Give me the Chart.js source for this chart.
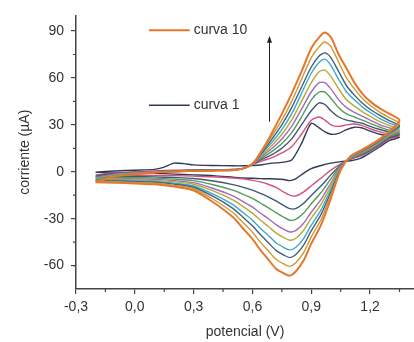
<!DOCTYPE html>
<html>
<head>
<meta charset="utf-8">
<script src="https://cdn.jsdelivr.net/npm/chart.js@4"></script>
<style>
  html, body { margin: 0; padding: 0; background: #fff; }
  #wrap { width: 414px; height: 342px; }
</style>
</head>
<body>
<div id="wrap"><canvas id="cvChart"></canvas></div>
<script>
// Potential sweep: -0.2 V up to 1.35 V and back down again
const potential = [
  -0.2, -0.1, 0.0, 0.1, 0.15, 0.2, 0.25, 0.3, 0.4, 0.5, 0.55,
  0.6, 0.65, 0.7, 0.75, 0.8, 0.85, 0.9, 0.94, 0.97, 1.0, 1.04, 1.08, 1.12, 1.16, 1.2, 1.25, 1.3, 1.35,
  1.3, 1.25, 1.2, 1.15, 1.1, 1.05, 1.0, 0.95, 0.9, 0.86, 0.82, 0.79, 0.76, 0.72, 0.68, 0.64, 0.6, 0.55, 0.5, 0.4, 0.3, 0.2, 0.1, 0.0, -0.1, -0.2
];

// Current (uA) for each cycle, same order as potential
const curva1 = [
  -0.3, 0.5, 1, 1.5, 3, 5.5, 5.2, 4.4, 4, 3.8, 3.8,
  4, 4.5, 5.5, 6, 7.5, 18, 31, 28, 25.5, 24, 24.5, 27, 28.5, 28, 26, 24, 23, 22,
  20, 16, 12, 8.5, 7, 6.5, 5.5, 4, 2, -1, -4.5, -5.7, -5, -4.6, -4.5, -4.4, -4.2, -4, -3.5, -2.5, -2, -1.5, -1, -0.8, -0.5, -0.3
];
const curva2 = [
  -2, -0.5, 0, 0.5, 0.8, 1, 1, 1.2, 1.3, 1.5, 2,
  4.5, 7, 9, 12, 16, 24, 33, 35, 33, 30, 29, 30, 30.5, 29.5, 27.5, 25.5, 24, 23,
  21, 17, 13, 10, 8, 5, 1, -4, -9, -13, -15.5, -15, -13, -10, -8, -6.5, -5.5, -4.5, -4, -3.2, -2.8, -2.5, -2.3, -2.2, -2.1, -2
];
const curva3 = [
  -2.8, -1, -0.5, 0, 0.3, 0.5, 0.8, 1, 1.2, 1.4, 2,
  5, 8, 11, 15, 21, 30, 39, 44, 43, 39, 35, 33, 32, 31, 29, 27, 25.5, 24,
  21.8, 17.7, 13.7, 10.6, 8.3, 4.3, -2, -9, -15.2, -20.3, -23.6, -23.6, -21.7, -18.7, -16, -13.8, -11.8, -9.8, -8.2, -5.9, -4.3, -3.7, -3.3, -3.1, -2.9, -2.8
];
const curva4 = [
  -3.5, -1.5, -0.5, 0, 0.2, 0.5, 0.7, 0.8, 1, 1.3, 2,
  5, 9, 13, 18, 25, 35, 46, 51, 51, 47, 41, 37, 35, 33, 31, 28.5, 26.5, 25,
  22.6, 18.2, 14.2, 11.1, 8.6, 3.8, -4.6, -13.3, -20.5, -26.6, -30.5, -31, -29.1, -26.1, -22.9, -20, -17.1, -14.3, -11.8, -8.3, -5.7, -4.7, -4.1, -3.8, -3.6, -3.5
];
const curva5 = [
  -4.2, -1.5, -1, 0, 0, 0.3, 0.5, 0.7, 1, 1.2, 2,
  5, 10, 15, 21, 29, 40, 51, 57, 57, 53, 46, 41, 38, 35.5, 33, 30, 28, 26,
  23.3, 18.8, 14.8, 11.6, 8.9, 3.2, -7.2, -17.7, -25.9, -33.1, -37.7, -38.5, -36.8, -33.8, -29.9, -26.4, -22.6, -18.9, -15.4, -10.7, -7, -5.7, -4.9, -4.6, -4.3, -4.2
];
const curva6 = [
  -4.7, -2, -1, -0.5, 0, 0.2, 0.5, 0.6, 0.9, 1.2, 2,
  5, 11, 17, 24, 33, 45, 57, 64, 65, 61, 53, 46, 42, 38.5, 35.5, 32, 29.5, 27,
  23.8, 19.2, 15.2, 12, 9.1, 2.8, -9.1, -20.8, -29.7, -37.6, -42.7, -43.8, -42.1, -39.1, -34.9, -30.9, -26.5, -22.1, -18, -12.3, -8, -6.4, -5.5, -5.2, -4.8, -4.7
];
const curva7 = [
  -5.3, -2, -1, -0.5, 0, 0.2, 0.5, 0.6, 0.8, 1.1, 2,
  5, 12, 19, 27, 37, 50, 63, 70, 72, 68, 59, 51, 46, 41.5, 38, 34, 31, 28.5,
  24.4, 19.7, 15.7, 12.4, 9.4, 2.3, -11.2, -24.4, -34.2, -42.9, -48.5, -50, -48.4, -45.4, -40.6, -36.1, -31, -25.9, -21, -14.3, -9.1, -7.3, -6.2, -5.8, -5.4, -5.3
];
const curva8 = [
  -5.7, -2.5, -1.5, -0.5, 0, 0.2, 0.4, 0.5, 0.8, 1.1, 2,
  5, 12.5, 21, 30, 41, 54, 67, 74, 76, 73, 64, 55, 49, 44, 40, 36, 32.5, 29.5,
  24.9, 20.1, 16.1, 12.7, 9.6, 1.9, -13, -27.3, -37.7, -47.1, -53.1, -54.9, -53.3, -50.3, -45.2, -40.2, -34.6, -28.9, -23.4, -15.8, -9.9, -7.9, -6.7, -6.3, -5.9, -5.7
];
const curva9 = [
  -6.2, -2.5, -1.5, -0.5, 0, 0, 0.3, 0.5, 0.7, 1, 2,
  5, 13.5, 23, 33, 45, 59, 73, 80, 83, 80, 70, 60, 53, 47, 42.5, 38, 34.5, 31,
  25.4, 20.5, 16.5, 13.1, 9.8, 1.5, -14.9, -30.5, -41.7, -51.9, -58.4, -60.5, -59, -56, -50.4, -45, -38.7, -32.3, -26.1, -17.6, -10.9, -8.7, -7.3, -6.9, -6.4, -6.2
];
const curva10 = [
  -6.8, -3, -1.5, -0.5, 0, 0, 0.3, 0.5, 0.7, 1, 2,
  5, 14, 25, 37, 50, 64, 79, 86, 89, 86, 75, 66, 57, 50, 45, 40.5, 37, 33,
  26, 21, 17, 13.5, 10, 1, -17, -34, -46, -57, -64, -66.5, -65, -62, -56, -50, -43, -36, -29, -19.5, -12, -9.5, -8, -7.5, -7, -6.8
];

const curves = [curva1, curva2, curva3, curva4, curva5, curva6, curva7, curva8, curva9, curva10];
const curveColors = ['#2e3a57', '#d4507c', '#3f5876', '#4f9d5b', '#a36ab9',
                     '#b8a933', '#3fa9c9', '#3e6088', '#cc9a2e', '#e5772c'];

const xTicks = [-0.3, 0.0, 0.3, 0.6, 0.9, 1.2];
const yTicks = [-60, -30, 0, 30, 60, 90];

const FONT = '"Liberation Sans", Arial, sans-serif';
const TEXT = '#333';
const AXIS = '#444';

// legend keys and the growth arrow, in data units
const keys = [
  { label: 'curva 10', idx: 9, y: 90.5 },
  { label: 'curva 1',  idx: 0, y: 42.5 }
];
const keyX = [0.072, 0.28, 0.3];
const arrow = { x: 0.685, from: 32, to: 87 };

const datasets = curves.map((c, i) => ({
  label: 'curva ' + (i + 1),
  data: potential.map((p, j) => ({ x: p, y: c[j] })),
  showLine: true,
  borderColor: curveColors[i],
  borderWidth: i === 9 ? 2 : 1.4,
  pointRadius: 0,
  tension: 0.25,
  order: 10 - i
}));

// minor ticks, legend keys and arrow
const extras = {
  id: 'extras',
  afterDraw(chart) {
    const ctx = chart.ctx;
    const xs = chart.scales.x, ys = chart.scales.y;
    const area = chart.chartArea;
    ctx.save();
    ctx.strokeStyle = AXIS;
    ctx.lineWidth = 1.2;
    ctx.beginPath();
    for (let i = 0; i < xTicks.length; i++) {
      const v = xTicks[i] + 0.15;
      const px = xs.getPixelForValue(v);
      if (px > area.right) continue;
      ctx.moveTo(px, area.bottom);
      ctx.lineTo(px, area.bottom + 3);
    }
    [-75].concat(yTicks).forEach(t => {
      const v = t + 15;
      if (v > 100) return;
      const py = ys.getPixelForValue(v);
      ctx.moveTo(area.left, py);
      ctx.lineTo(area.left - 3, py);
    });
    ctx.stroke();

    ctx.font = '14px ' + FONT;
    ctx.textBaseline = 'middle';
    ctx.fillStyle = TEXT;
    keys.forEach(k => {
      const py = ys.getPixelForValue(k.y);
      ctx.strokeStyle = curveColors[k.idx];
      ctx.lineWidth = k.idx === 9 ? 2.2 : 1.5;
      ctx.beginPath();
      ctx.moveTo(xs.getPixelForValue(keyX[0]), py);
      ctx.lineTo(xs.getPixelForValue(keyX[1]), py);
      ctx.stroke();
      ctx.fillText(k.label, xs.getPixelForValue(keyX[2]), py);
    });

    const ax = Math.round(xs.getPixelForValue(arrow.x)) + 0.5;
    const a0 = ys.getPixelForValue(arrow.from);
    const a1 = ys.getPixelForValue(arrow.to);
    ctx.strokeStyle = '#222';
    ctx.fillStyle = '#222';
    ctx.lineWidth = 1;
    ctx.beginPath();
    ctx.moveTo(ax, a0);
    ctx.lineTo(ax, a1 + 5);
    ctx.stroke();
    ctx.beginPath();
    ctx.moveTo(ax, a1);
    ctx.lineTo(ax - 2.5, a1 + 7);
    ctx.lineTo(ax + 2.5, a1 + 7);
    ctx.closePath();
    ctx.fill();
    ctx.restore();
  }
};

new Chart(document.getElementById('cvChart'), {
  type: 'scatter',
  data: { datasets: datasets },
  options: {
    responsive: true,
    maintainAspectRatio: false,
    animation: false,
    layout: { padding: { top: 13, right: 0, left: 0, bottom: 0 } },
    plugins: {
      legend: { display: false },
      tooltip: { enabled: false }
    },
    scales: {
      x: {
        type: 'linear',
        min: -0.3,
        max: 1.424,
        afterBuildTicks: s => { s.ticks = xTicks.map(v => ({ value: v })); },
        afterFit: s => { s.height = 53; },
        border: { color: AXIS, width: 1.5 },
        grid: { drawOnChartArea: false, tickLength: 5, tickColor: AXIS, lineWidth: 1.2 },
        ticks: {
          color: TEXT,
          font: { family: FONT, size: 14 },
          padding: 5,
          maxRotation: 0,
          callback: v => v.toFixed(1).replace('.', ',')
        },
        title: {
          display: true,
          text: 'potencial (V)',
          color: TEXT,
          font: { family: FONT, size: 14 },
          padding: { top: 4, bottom: 1 }
        }
      },
      y: {
        type: 'linear',
        min: -75,
        max: 100,
        afterBuildTicks: s => { s.ticks = yTicks.map(v => ({ value: v })); },
        afterFit: s => { s.width = 76; },
        border: { color: AXIS, width: 1.5 },
        grid: { drawOnChartArea: false, tickLength: 5, tickColor: AXIS, lineWidth: 1.2 },
        ticks: {
          color: TEXT,
          font: { family: FONT, size: 14 },
          padding: 7
        },
        title: {
          display: true,
          text: 'corriente (µA)',
          color: TEXT,
          font: { family: FONT, size: 14 },
          padding: { top: 17, bottom: 0 }
        }
      }
    }
  },
  plugins: [extras]
});
</script>
</body>
</html>
